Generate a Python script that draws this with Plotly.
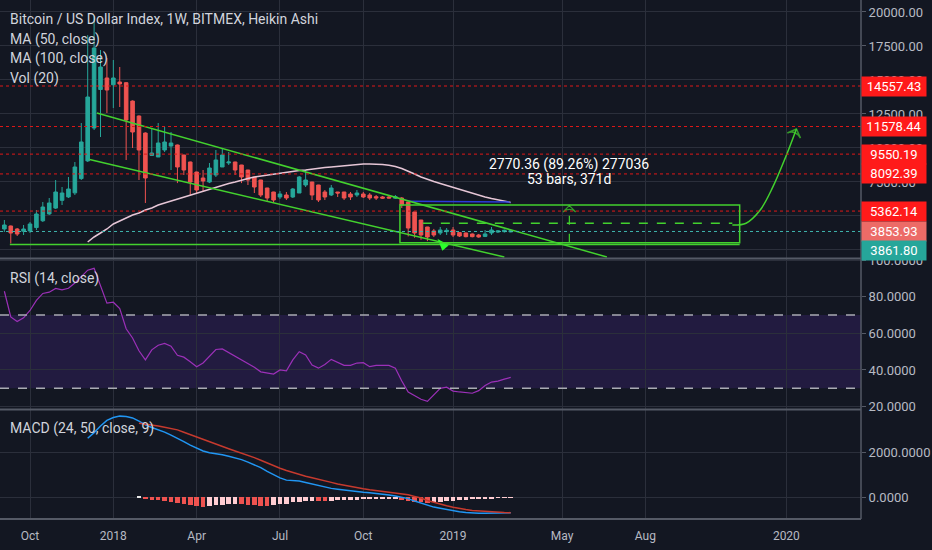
import pandas as pd
import plotly.graph_objects as go
from plotly.subplots import make_subplots

# weekly Heikin Ashi candles, BTC/USD (BITMEX index)
weeks = pd.date_range('2017-09-04', periods=80, freq='7D')

ha_open = [4044, 4264, 4044, 3880, 3900, 4150, 4650, 5150, 5580, 6150,
           6400, 6700, 7750, 9050, 11470, 14300, 15147, 14650, 14850, 14800,
           13450, 12350, 11100, 9450, 9338, 9853, 10146, 10220, 9485, 8970,
           8235, 7793, 7499, 8014, 8603, 8900, 8970, 8749, 8382, 7867,
           7646, 7058, 6764, 6397, 6544, 6397, 6690, 7279, 7499, 7279,
           6764, 6544, 6764, 6764, 6617, 6544, 6617, 6544, 6420, 6400,
           6397, 6310, 6323, 6029, 5294, 4705, 4191, 3900, 3750, 3850,
           3970, 3780, 3749, 3676, 3603, 3500, 3750, 3820, 3850, 3830]
ha_high = [4705, 4300, 4117, 4338, 4558, 5441, 6029, 6323, 7646, 7132,
           7867, 8970, 11838, 18300, 19700, 17205, 16617, 16470, 15955, 14850,
           13500, 12400, 11150, 11470, 11838, 11544, 11176, 10250, 9500, 9000,
           8250, 8382, 8897, 9853, 9999, 9705, 8990, 8760, 8390, 7880,
           7660, 7070, 6780, 6838, 6764, 7058, 7940, 8382, 7510, 7290,
           6911, 7279, 6770, 6770, 6764, 6911, 6764, 6690, 6544, 6470,
           6470, 6544, 6397, 6040, 5300, 4710, 4200, 4050, 4190, 4117,
           4191, 3800, 3780, 3720, 3680, 3970, 4191, 3970, 4000, 4000]
ha_low = [3823, 2980, 3529, 3603, 3749, 3970, 4558, 5073, 5514, 5808,
          6323, 6544, 7646, 8970, 11323, 10808, 12573, 12941, 13014, 9117,
          9999, 7646, 5956, 9450, 9338, 9705, 8382, 7419, 8014, 6544,
          6690, 6764, 7419, 7867, 8603, 8749, 8014, 7419, 7279, 6690,
          6397, 6029, 5956, 6250, 6176, 6323, 6690, 7132, 6176, 6029,
          6176, 6470, 6397, 6176, 6176, 6397, 6323, 6176, 6176, 6250,
          6290, 6250, 5588, 3500, 3400, 3250, 3150, 3450, 3603, 3603,
          3456, 3456, 3430, 3430, 3400, 3450, 3603, 3750, 3780, 3800]
ha_close = [4338, 3749, 3676, 4044, 4411, 5147, 5661, 5956, 6764, 6690,
            6985, 8603, 10441, 13750, 17352, 15955, 14264, 15147, 14706, 12058,
            11176, 9853, 7793, 9631, 10367, 10441, 10367, 8603, 8382, 7499,
            6911, 7572, 8529, 9117, 9485, 8970, 8382, 7867, 7646, 7132,
            6544, 6323, 6176, 6617, 6323, 6985, 7867, 7646, 6544, 6176,
            6397, 7058, 6690, 6323, 6397, 6690, 6397, 6323, 6323, 6310,
            6323, 6420, 5808, 4117, 3749, 3603, 3456, 3600, 3970, 3950,
            3603, 3529, 3480, 3480, 3456, 3680, 3970, 3900, 3950, 3920]

ma50 = [None] * 13 + [
    3088, 3456, 3749, 4044, 4411, 4632, 4852, 5073, 5220, 5441,
    5588, 5808, 5956, 6103, 6250, 6397, 6544, 6690, 6838, 6948,
    7095, 7242, 7389, 7499, 7646, 7757, 7867, 7941, 8014, 8088,
    8139, 8198, 8272, 8345, 8382, 8456, 8514, 8566, 8603, 8654,
    8713, 8749, 8786, 8823, 8823, 8823, 8786, 8727, 8639, 8492,
    8308, 8088, 7867, 7683, 7536, 7389, 7242, 7095, 6948, 6801,
    6654, 6507, 6397, 6287, 6176, 6103, 5992]
ma100 = [None] * 63 + [
    6080, 6075, 6070, 6065, 6060, 6060, 6055, 6050, 6050, 6045,
    6040, 6040, 6035, 6030, 6030, 6025, 6020]

rsi = [83, 69, 66.5, 68.5, 72.5, 78, 81.8, 82.5, 84.5, 83.7,
       84.6, 87.5, 91, 94.5, 95.5, 86, 76.5, 77, 73.5, 62.5,
       57.5, 50.5, 45.5, 51, 53.5, 54.5, 53, 48, 47, 44.5,
       41.8, 43.8, 47.5, 51.2, 51.5, 49.5, 47.3, 45.3, 43.5, 41.5,
       39, 38.3, 37.8, 40, 39.5, 45.5, 50, 48.2, 42.7, 41,
       43, 45.8, 44.3, 42.5, 42.5, 43.8, 44, 41.8, 42.5, 42.6,
       42.5, 41, 34, 28, 26, 24, 22.9, 26.5, 30, 30.6,
       28.5, 28, 27.6, 27.3, 28.7, 31.5, 33.4, 33.9, 35, 36]

macd = [None] * 13 + [
    2650, 2900, 3200, 3450, 3580, 3640, 3620, 3560, 3420, 3250,
    3130, 3030, 2925, 2790, 2660, 2500, 2340, 2200, 2080, 2000,
    1960, 1910, 1840, 1770, 1690, 1580, 1470, 1330, 1160, 1000,
    870, 770, 755, 730, 660, 590, 510, 445, 400, 365,
    325, 290, 250, 225, 200, 175, 140, 105, 60, 15,
    -60, -170, -270, -370, -440, -495, -555, -605, -650, -680,
    -705, -717, -720, -718, -712, -700, -690]
signal = [None] * 21 + [
    3320, 3290, 3250, 3200, 3140, 3080, 3025, 2920, 2810, 2700,
    2590, 2480, 2380, 2290, 2180, 2080, 1990, 1880, 1780, 1660,
    1530, 1410, 1300, 1200, 1110, 1010, 940, 880, 820, 740,
    670, 600, 540, 470, 430, 380, 335, 300, 270, 230,
    190, 160, 110, 40, -30, -140, -230, -300, -380, -450,
    -510, -550, -590, -615, -635, -655, -670, -682, -690]
hist = [None] * 21 + [
    50, -80, -110, -140, -180, -220, -270, -310, -360, -410,
    -430, -400, -360, -330, -300, -290, -310, -330, -350, -370,
    -380, -360, -320, -280, -230, -190, -160, -150, -165, -170,
    -150, -130, -120, -110, -100, -95, -90, -85, -80, -75,
    -70, -100, -150, -190, -220, -240, -230, -200, -170, -150,
    -130, -110, -95, -80, -60, -45, -30, -20, -10]

levels = [14557.43, 11578.44, 9550.19, 8092.39, 5362.14]
ha_last = 3853.93
last_price = 3861.80

tick_dates = ['2017-10-02', '2018-01-01', '2018-04-02', '2018-07-02', '2018-10-01',
              '2019-01-07', '2019-05-06', '2019-08-05', '2020-01-06']
tick_text = ['Oct', '2018', 'Apr', 'Jul', 'Oct', '2019', 'May', 'Aug', '2020']

# drawings (date, price)
channel_top = (['2017-12-14', '2019-06-24'], [12570, 1985])
channel_bottom = (['2017-12-06', '2019-03-04'], [9147, 1985])
support = (['2017-09-10', '2019-11-16'], [2904, 2904])
box_dates = ['2018-11-10', '2019-11-16']
box_prices = [3037, 5808]
mid_dashed = (['2018-12-05', '2019-11-08'], [4463, 4463])
measure = (['2019-05-14', '2019-05-14'], [3040, 5760])
curve = (['2019-11-08', '2019-11-23', '2019-12-08', '2019-12-22', '2020-01-05', '2020-01-17'],
         [4338, 4470, 5400, 7100, 9300, 11400])

BG = '#131722'
GRID = '#2b2f3b'
TXT = '#b7bac3'
GREEN = '#43d12e'
FONT = 'Roboto'

fig = make_subplots(rows=3, cols=1, shared_xaxes=True, vertical_spacing=0)

fig.add_trace(go.Candlestick(
    x=weeks, open=ha_open, high=ha_high, low=ha_low, close=ha_close,
    increasing=dict(line=dict(color='#26a69a', width=1), fillcolor='#26a69a'),
    decreasing=dict(line=dict(color='#ef5350', width=1), fillcolor='#ef5350'),
    hoverinfo='skip'), row=1, col=1)

fig.add_trace(go.Scatter(x=weeks, y=ma50, mode='lines',
                         line=dict(color='#e6c6d6', width=1.5)), row=1, col=1)
fig.add_trace(go.Scatter(x=weeks, y=ma100, mode='lines',
                         line=dict(color='#2b3bd9', width=1.5)), row=1, col=1)

# trend drawings
for xs, ys in [channel_top, channel_bottom, support]:
    fig.add_trace(go.Scatter(x=xs, y=ys, mode='lines',
                             line=dict(color=GREEN, width=1.5)), row=1, col=1)
fig.add_trace(go.Scatter(x=mid_dashed[0], y=mid_dashed[1], mode='lines',
                         line=dict(color=GREEN, width=1.5, dash='dash')), row=1, col=1)
fig.add_trace(go.Scatter(x=measure[0], y=measure[1], mode='lines+markers',
                         line=dict(color=GREEN, width=1.2, dash='dash'),
                         marker=dict(symbol='arrow-wide-open', size=[0, 9], angleref='previous',
                                     color=GREEN, line=dict(color=GREEN, width=1.2))), row=1, col=1)
fig.add_trace(go.Scatter(x=curve[0], y=curve[1], mode='lines+markers',
                         line=dict(color=GREEN, width=1.5, shape='spline'),
                         marker=dict(symbol='arrow-wide-open', size=[0, 0, 0, 0, 0, 10],
                                     angleref='previous', color=GREEN,
                                     line=dict(color=GREEN, width=1.5))), row=1, col=1)
fig.add_trace(go.Scatter(x=['2018-12-21'], y=[3330], mode='markers',
                         marker=dict(symbol='arrow', size=13, angle=-40, color='#2bff2b')),
              row=1, col=1)

# RSI
fig.add_trace(go.Scatter(x=weeks, y=rsi, mode='lines',
                         line=dict(color='#9c30b8', width=1.2)), row=2, col=1)

# MACD
hist_colors = []
prev = None
for h in hist:
    if h is None:
        hist_colors.append('rgba(0,0,0,0)')
    elif h >= 0:
        hist_colors.append('#e8e8e8')
    elif prev is not None and h < prev:
        hist_colors.append('#ef5350')
    else:
        hist_colors.append('#ffcdd2')
    if h is not None:
        prev = h
fig.add_trace(go.Bar(x=weeks, y=hist, marker=dict(color=hist_colors, line=dict(width=0)),
                     width=5 * 24 * 3600 * 1000), row=3, col=1)
fig.add_trace(go.Scatter(x=weeks, y=macd, mode='lines',
                         line=dict(color='#2196f3', width=1.5)), row=3, col=1)
fig.add_trace(go.Scatter(x=weeks, y=signal, mode='lines',
                         line=dict(color='#c63a2e', width=1.5)), row=3, col=1)

shapes = []
for lvl in levels:
    shapes.append(dict(type='line', xref='paper', x0=0, x1=1, yref='y', y0=lvl, y1=lvl,
                       line=dict(color='#e01818', width=1, dash='dot')))
shapes.append(dict(type='line', xref='paper', x0=0, x1=1, yref='y', y0=last_price, y1=last_price,
                   line=dict(color='#3fb5ad', width=1, dash='dot')))
shapes.append(dict(type='rect', xref='x', yref='y', x0=box_dates[0], x1=box_dates[1],
                   y0=box_prices[0], y1=box_prices[1], line=dict(color=GREEN, width=1.5)))
# RSI band
shapes.append(dict(type='rect', xref='paper', x0=0, x1=1, yref='y2', y0=30, y1=70,
                   fillcolor='rgba(104, 52, 205, 0.18)', line=dict(width=0), layer='below'))
for v in (70, 30):
    shapes.append(dict(type='line', xref='paper', x0=0, x1=1, yref='y2', y0=v, y1=v,
                       line=dict(color='#a9abb3', width=1.5, dash='dash')))
# pane separators and axis border
for py in (1 - 258.5 / 519, 1 - 409.5 / 519, 0):
    shapes.append(dict(type='line', xref='paper', x0=0, x1=1, yref='paper', y0=py, y1=py,
                       line=dict(color='#555a66', width=2)))
shapes.append(dict(type='line', xref='paper', x0=1, x1=1, yref='paper', y0=0, y1=1,
                   line=dict(color='#555a66', width=1.5)))

annotations = []
legend_lines = [('Bitcoin / US Dollar Index, 1W, BITMEX, Heikin Ashi', 19),
                ('MA (50, close)', 39), ('MA (100, close)', 58), ('Vol (20)', 78),
                ('RSI (14, close)', 278), ('MACD (24, 50, close, 9)', 428)]
for text, py in legend_lines:
    annotations.append(dict(text=text, xref='paper', yref='paper', x=8 / 861, y=1 - py / 519,
                            xanchor='left', yanchor='middle', showarrow=False,
                            font=dict(color='#d1d4dc', size=14, family=FONT)))
for lvl in levels:
    annotations.append(dict(text=f'{lvl:.2f}', xref='paper', x=1, xanchor='left', yref='y', y=lvl,
                            yanchor='middle', showarrow=False, bgcolor='#ff1a1a', width=58, height=13,
                            borderpad=3, font=dict(color='white', size=13, family=FONT)))
annotations.append(dict(text=f'{ha_last:.2f}', xref='paper', x=1, xanchor='left', yref='y', y=ha_last,
                        yanchor='middle', showarrow=False, bgcolor='#ec6b67', width=58, height=13,
                        borderpad=3, font=dict(color='white', size=13, family=FONT)))
annotations.append(dict(text=f'{last_price:.2f}', xref='paper', x=1, xanchor='left', yref='y',
                        y=last_price, yshift=-19, yanchor='middle', showarrow=False,
                        bgcolor='#26a69a', width=58, height=13, borderpad=3,
                        font=dict(color='white', size=13, family=FONT)))
annotations.append(dict(text='2770.36 (89.26%) 277036', x='2019-05-14', y=8750, xref='x', yref='y',
                        showarrow=False, font=dict(color='white', size=14, family=FONT)))
annotations.append(dict(text='53 bars, 371d', x='2019-05-14', y=7720, xref='x', yref='y',
                        showarrow=False, font=dict(color='white', size=14, family=FONT)))

fig.update_layout(
    width=932, height=550,
    margin=dict(l=0, r=71, t=0, b=31),
    paper_bgcolor=BG, plot_bgcolor=BG,
    showlegend=False, bargap=0, boxgap=0.2,
    font=dict(family=FONT, color=TXT, size=12),
    shapes=shapes, annotations=annotations,
    yaxis=dict(domain=[1 - 258 / 519, 1], range=[1911, 20882], side='right',
               tickvals=[2500, 5000, 7500, 10000, 12500, 15000, 17500, 20000], tickformat='.2f'),
    yaxis2=dict(domain=[1 - 409 / 519, 1 - 259 / 519], range=[18.7, 100.6], side='right',
                tickvals=[20, 40, 60, 80, 100], tickformat='.4f'),
    yaxis3=dict(domain=[0, 1 - 410 / 519], range=[-973, 3915], side='right',
                tickvals=[0, 2000, 4000], tickformat='.4f'),
)
fig.update_yaxes(gridcolor=GRID, zeroline=False, showline=False, ticks='outside', ticklen=4,
                 tickcolor='#555a66', automargin=False,
                 tickfont=dict(size=13, color=TXT, family=FONT))
fig.update_xaxes(type='date', range=['2017-08-30 05:40', '2020-03-27 12:00'],
                 tickvals=tick_dates, ticktext=tick_text, gridcolor=GRID, zeroline=False,
                 showline=False, rangeslider=dict(visible=False), ticks='', automargin=False,
                 tickfont=dict(size=12, color=TXT, family=FONT))
fig.update_xaxes(showticklabels=False, row=1, col=1)
fig.update_xaxes(showticklabels=False, row=2, col=1)
fig.update_xaxes(showticklabels=True, ticklabelstandoff=8, row=3, col=1)

# drop the default 8px page margin so the chart sits flush in the window
fig.write_html('out.html', config={'displayModeBar': False},
               post_script="document.body.style.margin='0';"
                           "document.body.style.background='#131722';")
